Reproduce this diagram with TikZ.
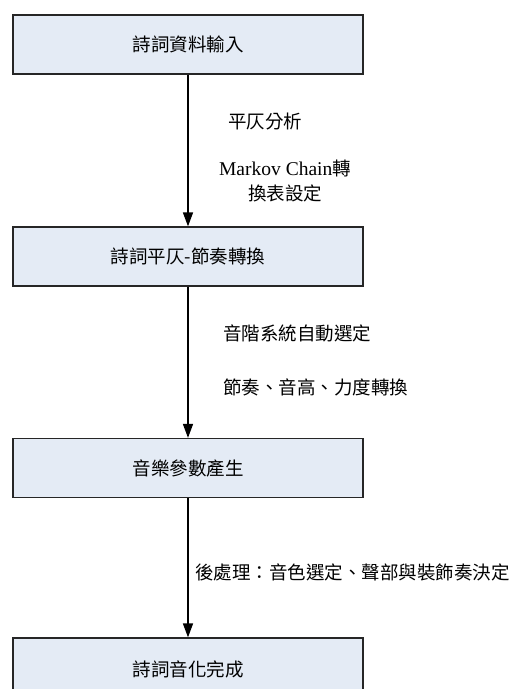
\documentclass[tikz,border=0pt]{standalone}
\usepackage{fontspec}
\setmainfont{Liberation Serif}
\newfontfamily\cjk{Noto Sans CJK TC}
\usetikzlibrary{arrows.meta}
\definecolor{boxfill}{HTML}{E4EBF5}
\begin{document}
\begin{tikzpicture}[x=1pt,y=1pt,
  stepbox/.style={draw=black!85, line width=1.2pt, fill=boxfill, minimum width=350pt,
    minimum height=59pt, inner sep=0pt, font=\cjk\fontsize{18.5}{22}\selectfont},
  lbl/.style={inner sep=0pt, font=\cjk\fontsize{18.5}{22}\selectfont},
  flow/.style={line width=1.4pt, -{Triangle[length=14pt,width=10pt]}}]
\useasboundingbox (0,0) rectangle (531,-689);
\clip (0,0) rectangle (531,-689);
\node[stepbox] (b1) at (188,-44.5) {詩詞資料輸入};
\node[stepbox] (b2) at (188,-256.5) {詩詞平仄-節奏轉換};
\node[stepbox] (b3) at (188,-468) {音樂參數產生};
\node[stepbox, minimum height=63pt] (b4) at (188,-669.5) {詩詞音化完成};
\draw[flow] (b1) -- (b2);
\draw[flow] (b2) -- (b3);
\draw[flow] (b3) -- (b4);
\node[lbl] (l1) at (265,-122) {平仄分析};
\node[lbl, align=center, font=\fontsize{19.5}{25}\selectfont] (l2) at (285,-180.5)
  {Markov Chain{\cjk\fontsize{18.5}{25}\selectfont 轉}\\{\cjk\fontsize{18.5}{25}\selectfont 換表設定}};
\node[lbl, anchor=west] (l3) at (223,-333) {音階系統自動選定};
\node[lbl, anchor=west] (l4) at (223,-387) {節奏、音高、力度轉換};
\node[lbl, anchor=west] (l5) at (195,-572) {後處理：音色選定、聲部與裝飾奏決定};
\end{tikzpicture}
\end{document}
